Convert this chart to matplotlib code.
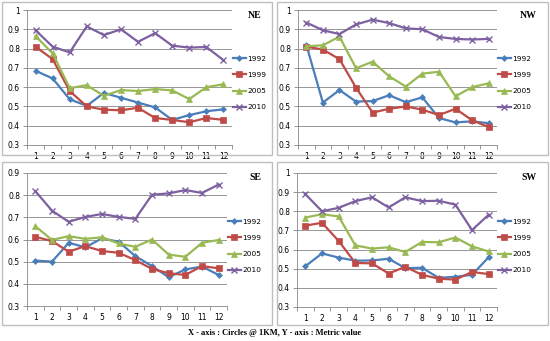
import matplotlib
matplotlib.use("Agg")
import matplotlib.pyplot as plt
from matplotlib.patches import Rectangle

circles = list(range(1, 13))
years = ["1992", "1999", "2005", "2010"]

ne_1992 = [0.685, 0.645, 0.537, 0.503, 0.570, 0.545, 0.520, 0.495, 0.430, 0.455, 0.475, 0.485]
ne_1999 = [0.810, 0.745, 0.580, 0.500, 0.483, 0.480, 0.493, 0.440, 0.430, 0.418, 0.440, 0.430]
ne_2005 = [0.865, 0.775, 0.595, 0.610, 0.555, 0.585, 0.580, 0.590, 0.583, 0.538, 0.600, 0.615]
ne_2010 = [0.895, 0.810, 0.780, 0.915, 0.870, 0.900, 0.835, 0.880, 0.815, 0.805, 0.808, 0.740]

nw_1992 = [0.820, 0.520, 0.585, 0.525, 0.528, 0.558, 0.522, 0.547, 0.440, 0.417, 0.423, 0.413]
nw_1999 = [0.810, 0.795, 0.745, 0.597, 0.468, 0.488, 0.500, 0.483, 0.455, 0.488, 0.428, 0.393]
nw_2005 = [0.812, 0.817, 0.862, 0.698, 0.732, 0.656, 0.603, 0.670, 0.680, 0.553, 0.600, 0.620]
nw_2010 = [0.935, 0.895, 0.875, 0.925, 0.950, 0.932, 0.905, 0.900, 0.860, 0.850, 0.847, 0.850]

se_1992 = [0.505, 0.500, 0.585, 0.565, 0.605, 0.590, 0.525, 0.480, 0.430, 0.465, 0.478, 0.440]
se_1999 = [0.612, 0.593, 0.545, 0.570, 0.548, 0.540, 0.507, 0.467, 0.448, 0.440, 0.480, 0.470]
se_2005 = [0.660, 0.598, 0.615, 0.603, 0.610, 0.582, 0.567, 0.600, 0.532, 0.522, 0.585, 0.598]
se_2010 = [0.818, 0.730, 0.680, 0.702, 0.715, 0.702, 0.693, 0.802, 0.808, 0.823, 0.810, 0.848]

sw_1992 = [0.513, 0.580, 0.558, 0.542, 0.543, 0.552, 0.503, 0.505, 0.452, 0.458, 0.468, 0.560]
sw_1999 = [0.725, 0.740, 0.645, 0.530, 0.528, 0.475, 0.510, 0.468, 0.448, 0.443, 0.483, 0.472]
sw_2005 = [0.767, 0.785, 0.773, 0.622, 0.605, 0.612, 0.587, 0.640, 0.638, 0.663, 0.617, 0.590]
sw_2010 = [0.890, 0.800, 0.818, 0.853, 0.873, 0.820, 0.873, 0.853, 0.855, 0.835, 0.702, 0.782]

colors = ["#4a7ebb", "#be4b48", "#98b954", "#7d60a0"]
markers = ["D", "s", "^", "x"]
msizes = [3, 4.5, 4.5, 5]

W, H = 550, 341
fig = plt.figure(figsize=(5.5, 3.41), dpi=100)
fig.patch.set_facecolor("white")

# (name, series, ymax, axes box in pixels: left, top, right, bottom, panel box)
panels = [
    ("NE", [ne_1992, ne_1999, ne_2005, ne_2010], 1.0, (27, 10, 232, 145), (2, 2, 272, 155)),
    ("NW", [nw_1992, nw_1999, nw_2005, nw_2010], 1.0, (298, 10, 497, 145), (277, 2, 548, 155)),
    ("SE", [se_1992, se_1999, se_2005, se_2010], 0.9, (27, 173, 227, 306), (2, 162, 272, 325)),
    ("SW", [sw_1992, sw_1999, sw_2005, sw_2010], 1.0, (297, 173, 497, 307), (277, 162, 548, 325)),
]

for name, series, ymax, (l, t, r, b), (pl, pt, pr, pb) in panels:
    fig.patches.append(Rectangle((pl / W, 1 - pb / H), (pr - pl) / W, (pb - pt) / H,
                                 transform=fig.transFigure, fill=False,
                                 edgecolor="#bfbfbf", linewidth=1.0))
    ax = fig.add_axes([l / W, 1 - b / H, (r - l) / W, (b - t) / H])
    for vals, yr, c, m, ms in zip(series, years, colors, markers, msizes):
        ax.plot(circles, vals, color=c, marker=m, markersize=ms, linewidth=1.6,
                markeredgewidth=1.0 if m == "x" else 0.5, label=yr)
    ax.set_xlim(0.5, 12.5)
    ax.set_ylim(0.3, ymax)
    yt = [round(0.3 + 0.1 * i, 1) for i in range(int(round((ymax - 0.3) / 0.1)) + 1)]
    ax.set_yticks(yt)
    ax.set_yticklabels([("%g" % v) for v in yt], fontsize=5.5)
    ax.set_xticks(circles)
    ax.set_xticklabels([str(c) for c in circles], fontsize=5.5)
    ax.set_xticks([i + 0.5 for i in range(0, 13)], minor=True)
    ax.tick_params(axis="x", which="major", length=0, pad=5)
    ax.tick_params(axis="x", which="minor", length=3, color="#868686", width=0.6)
    ax.tick_params(axis="y", length=3, color="#868686", width=0.6, pad=2)
    ax.grid(axis="y", color="#868686", linewidth=0.6)
    ax.set_axisbelow(True)
    for s in ["top", "right"]:
        ax.spines[s].set_visible(False)
    for s in ["left", "bottom"]:
        ax.spines[s].set_color("#868686")
        ax.spines[s].set_linewidth(0.6)
    ax.text(pr / W - 0.02, 1 - (t + 5) / H, name, transform=fig.transFigure,
            ha="right", va="center", fontsize=7, fontweight="bold",
            family="Liberation Serif")
    ax.legend(loc="center left", bbox_to_anchor=((r + 1) / W, 1 - (t + 73) / H),
              bbox_transform=fig.transFigure, frameon=False, fontsize=5.3,
              handlelength=1.7, labelspacing=1.35, handletextpad=0.2,
              borderaxespad=0, borderpad=0)

fig.text(0.5, 1 - 333 / H, "X - axis : Circles @ 1KM, Y - axis : Metric value",
         ha="center", va="center", fontsize=6, fontweight="bold",
         family="Liberation Serif")

fig.savefig("out.png", dpi=100)
